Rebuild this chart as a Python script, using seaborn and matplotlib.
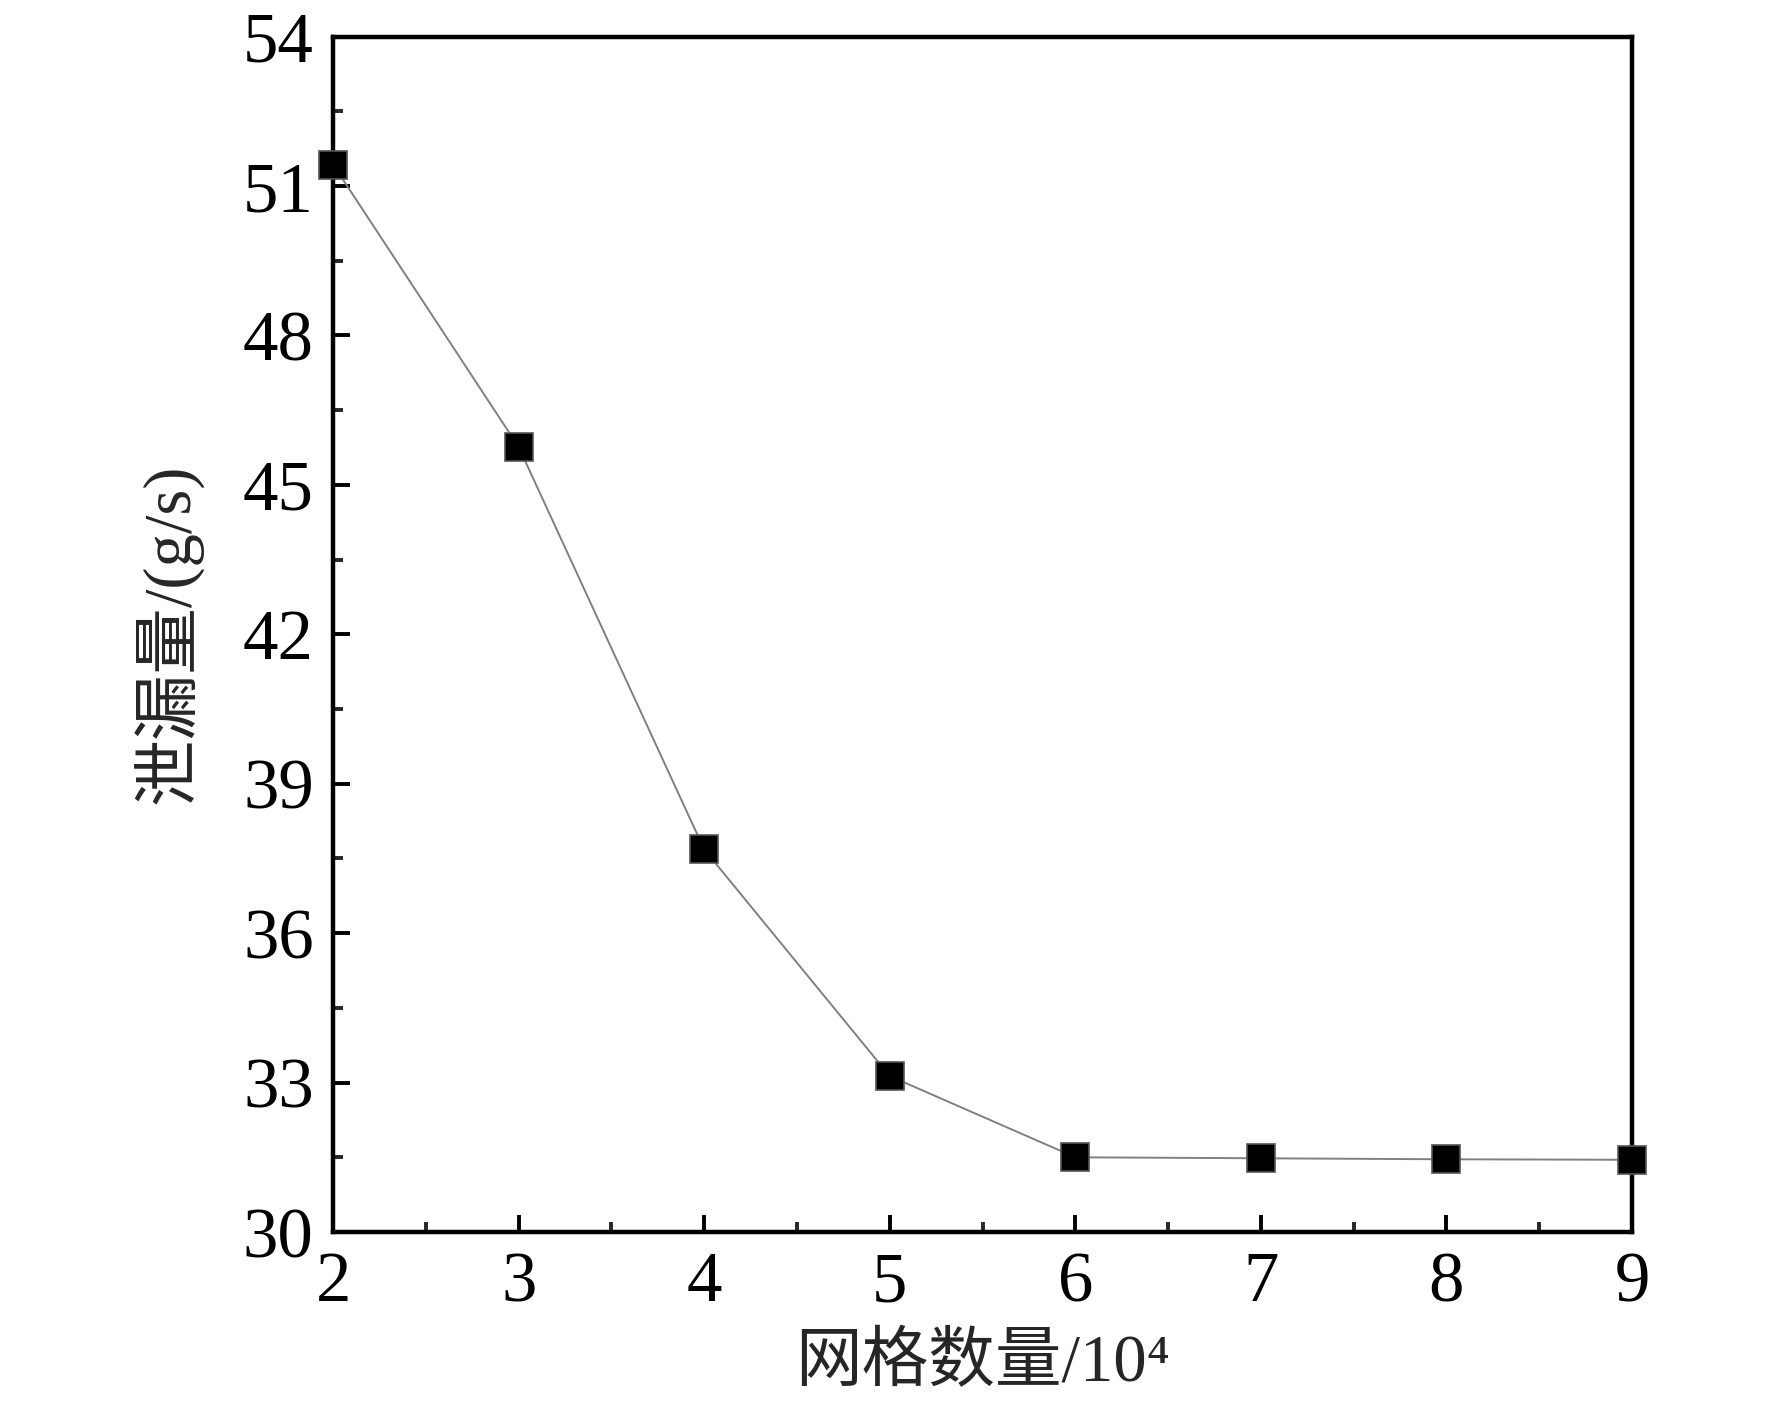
import matplotlib
matplotlib.use("Agg")
import matplotlib.pyplot as plt
import seaborn as sns
import pandas as pd
from matplotlib.ticker import MultipleLocator

# data
grid_count = [2, 3, 4, 5, 6, 7, 8, 9]
leakage = [51.43, 45.76, 37.68, 33.13, 31.50, 31.48, 31.46, 31.45]
xlabel_text = "网格数量/10⁴"
ylabel_text = "泄漏量/(g/s)"

df = pd.DataFrame({"x": grid_count, "y": leakage})

sns.set_style("ticks")
plt.rcParams["font.family"] = ["Liberation Serif", "Noto Sans CJK SC", "DejaVu Serif"]

fig = plt.figure(figsize=(8.86, 7.04), dpi=200)
ax = fig.add_axes([0.188, 0.125, 0.733, 0.849])

sns.lineplot(data=df, x="x", y="y", ax=ax, color="#808080", linewidth=0.7,
             marker="s", markersize=10, markerfacecolor="black",
             markeredgecolor="#555555", markeredgewidth=0.6, clip_on=False, zorder=3)

ax.set_xlim(2, 9)
ax.set_ylim(30, 54)
ax.xaxis.set_major_locator(MultipleLocator(1))
ax.xaxis.set_minor_locator(MultipleLocator(0.5))
ax.yaxis.set_major_locator(MultipleLocator(3))
ax.yaxis.set_minor_locator(MultipleLocator(1.5))

for s in ax.spines.values():
    s.set_visible(True)
    s.set_linewidth(1.6)
    s.set_color("black")

ax.tick_params(which="major", direction="in", length=6, width=1.4,
               labelsize=25.5, colors="black", pad=7)
ax.tick_params(which="minor", direction="in", length=3.5, width=1.4)

ax.set_xlabel(xlabel_text, fontsize=24, labelpad=6)
ax.set_ylabel(ylabel_text, fontsize=24, labelpad=14)

fig.savefig("out.png", dpi=200)
